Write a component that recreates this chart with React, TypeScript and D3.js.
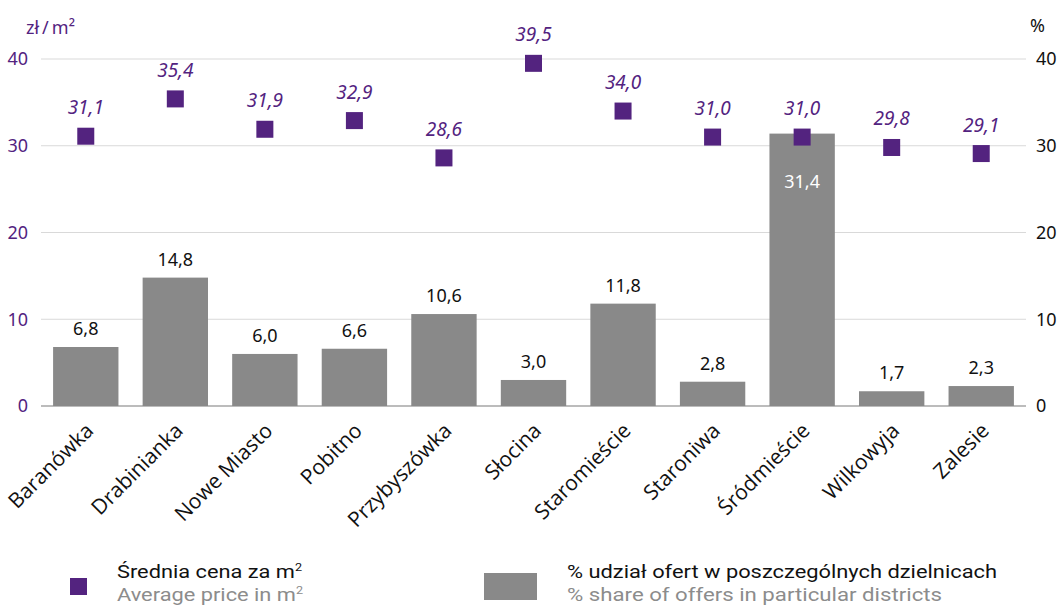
import { useEffect } from 'react';
import * as d3 from 'd3';

const districts = ['Baranówka', 'Drabinianka', 'Nowe Miasto', 'Pobitno', 'Przybyszówka', 'Słocina', 'Staromieście', 'Staroniwa', 'Śródmieście', 'Wilkowyja', 'Zalesie'];
const avgPrice = [31.1, 35.4, 31.9, 32.9, 28.6, 39.5, 34.0, 31.0, 31.0, 29.8, 29.1];
const offerShare = [6.8, 14.8, 6.0, 6.6, 10.6, 3.0, 11.8, 2.8, 31.4, 1.7, 2.3];
const ticks = [0, 10, 20, 30, 40];

const WIDTH = 1061;
const HEIGHT = 607;
const PURPLE = '#53237f';
const BAR = '#898989';
const FONT = '"Noto Sans", "Open Sans", sans-serif';
const LEGEND_FONT = '"Roboto", "Noto Sans", sans-serif';
const fmt = (v: number) => v.toFixed(1).replace('.', ',');

export default function App() {
  useEffect(() => {
    document.body.style.margin = '0';
  }, []);

  const x = d3.scaleBand().domain(districts).range([41, 1026]).paddingInner(0.27).paddingOuter(0.135);
  const yLeft = d3.scaleLinear().domain([0, 40]).range([406, 59]);
  const yRight = d3.scaleLinear().domain([0, 40]).range([406, 59]);
  const bw = x.bandwidth();
  const sq = 17;

  return (
    <svg width={WIDTH} height={HEIGHT} style={{ display: 'block', background: '#fff' }}>
      {/* grid */}
      {ticks.map(t => (
        <line key={t} x1={41} x2={1026} y1={yLeft(t)} y2={yLeft(t)}
          stroke={t === 0 ? '#a6a6a6' : '#d9d9d9'} strokeWidth={t === 0 ? 1.5 : 1} />
      ))}
      {/* left axis */}
      {ticks.map(t => (
        <text key={'l' + t} x={28} y={yLeft(t)} dy="0.35em" textAnchor="end"
          fontFamily={FONT} fontSize={18} fill={PURPLE}>{t}</text>
      ))}
      <text x={26} y={34} fontFamily={FONT} fontSize={18} fill={PURPLE}>
        zł<tspan dx={3}>/</tspan><tspan dx={3}>m²</tspan>
      </text>
      {/* right axis */}
      {ticks.map(t => (
        <text key={'r' + t} x={1036} y={yRight(t)} dy="0.35em" textAnchor="start"
          fontFamily={FONT} fontSize={18} fill="#111">{t}</text>
      ))}
      <text x={1030} y={32} fontFamily={FONT} fontSize={18} fill="#111">%</text>

      {/* bars */}
      {districts.map((d, i) => {
        const v = offerShare[i];
        const top = yRight(v);
        const inside = v > 25;
        return (
          <g key={'b' + d}>
            <rect x={x(d)} y={top} width={bw} height={yRight(0) - top} fill={BAR} />
            <text x={(x(d) || 0) + bw / 2} y={inside ? top + 54 : top - 12}
              textAnchor="middle" fontFamily={FONT} fontSize={18}
              fill={inside ? '#fff' : '#111'}>{fmt(v)}</text>
          </g>
        );
      })}

      {/* price markers */}
      {districts.map((d, i) => {
        const cx = (x(d) || 0) + bw / 2;
        const cy = yLeft(avgPrice[i]);
        return (
          <g key={'p' + d}>
            <rect x={cx - sq / 2} y={cy - sq / 2} width={sq} height={sq} fill={PURPLE} />
            <text x={cx} y={cy - 22} textAnchor="middle" fontFamily={FONT}
              fontSize={19} fontStyle="italic" fill={PURPLE}>{fmt(avgPrice[i])}</text>
          </g>
        );
      })}

      {/* category labels */}
      {districts.map(d => {
        const cx = (x(d) || 0) + bw / 2 + 9;
        const cy = 432;
        return (
          <text key={'c' + d} transform={`translate(${cx},${cy}) rotate(-45)`}
            textAnchor="end" fontFamily={'"Open Sans", sans-serif'} fontSize={21} fill="#111">{d}</text>
        );
      })}

      {/* legend */}
      <rect x={70} y={578} width={17} height={17} fill={PURPLE} />
      <text x={117} y={578} fontFamily={LEGEND_FONT} fontSize={19} fill="#111"
        textLength={185} lengthAdjust="spacingAndGlyphs">
        Średnia cena za m<tspan dy={-7} fontSize={11}>2</tspan>
      </text>
      <text x={117} y={601} fontFamily={LEGEND_FONT} fontSize={19} fill="#8c8c8c"
        textLength={186} lengthAdjust="spacingAndGlyphs">
        Average price in m<tspan dy={-7} fontSize={11}>2</tspan>
      </text>
      <rect x={484} y={573} width={53} height={27} fill={BAR} />
      <text x={567} y={578} fontFamily={LEGEND_FONT} fontSize={19} fill="#111"
        textLength={430} lengthAdjust="spacingAndGlyphs">
        % udział ofert w poszczególnych dzielnicach
      </text>
      <text x={567} y={601} fontFamily={LEGEND_FONT} fontSize={19} fill="#8c8c8c"
        textLength={375} lengthAdjust="spacingAndGlyphs">
        % share of offers in particular districts
      </text>
    </svg>
  );
}
